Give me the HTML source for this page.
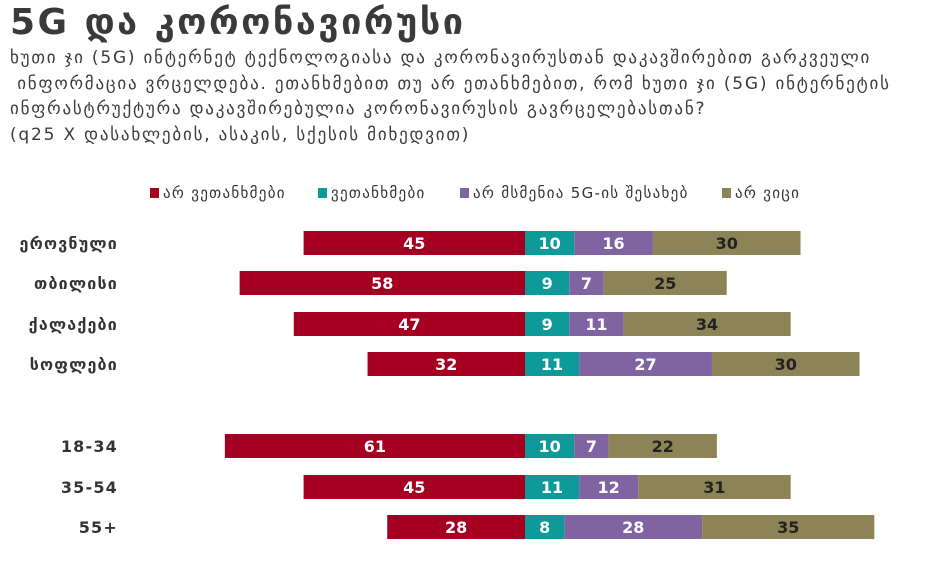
<!DOCTYPE html>
<html><head><meta charset="utf-8"><style>
body{margin:0;background:#fff;width:937px;height:565px;overflow:hidden;font-family:"DejaVu Sans",sans-serif;color:#3a3a3a}
#title{position:absolute;left:10px;top:0px;font-size:36px;font-weight:bold;letter-spacing:2.5px;margin:0;line-height:46px}
#sub{position:absolute;left:10px;top:46px;font-size:17px;letter-spacing:1.8px;line-height:25.5px;margin:0;width:930px;white-space:nowrap}
svg{position:absolute;left:0;top:0}
</style></head><body>
<h1 id="title">5G და კორონავირუსი</h1>
<p id="sub">ხუთი ჯი (5G) ინტერნეტ ტექნოლოგიასა და კორონავირუსთან დაკავშირებით გარკვეული<br>&nbsp;ინფორმაცია ვრცელდება. ეთანხმებით თუ არ ეთანხმებით, რომ ხუთი ჯი (5G) ინტერნეტის<br>ინფრასტრუქტურა დაკავშირებულია კორონავირუსის გავრცელებასთან?<br>(q25 X დასახლების, ასაკის, სქესის მიხედვით)</p>
<svg id="chart" width="937" height="565"></svg>
<script>
const categories=["ეროვნული","თბილისი","ქალაქები","სოფლები","18-34","35-54","55+"];
const disagree=[45,58,47,32,61,45,28];
const agree=[10,9,9,11,10,11,8];
const notHeard=[16,7,11,27,7,12,28];
const dontKnow=[30,25,34,30,22,31,35];
const seriesNames=["არ ვეთანხმები","ვეთანხმები","არ მსმენია 5G-ის შესახებ","არ ვიცი"];
const colors=["#a50021","#0f9a9a","#8064a2","#8c8456"];
const rowY=[243,283,324,364,446,487,527];
const NS="http://www.w3.org/2000/svg";
const svg=document.getElementById('chart');
const cx=525,k=4.92,bh=24;
const x=v=>cx+v*k;
function mk(t,a,p){const e=document.createElementNS(NS,t);for(const n in a)e.setAttribute(n,a[n]);(p||svg).appendChild(e);return e;}
const lx=[150,318,460,722];
seriesNames.forEach((s,i)=>{
 const g=mk('g',{});
 
 
 mk('rect',{x:lx[i],y:188,width:9,height:10,fill:colors[i]},g);
 const t=mk('text',{x:lx[i]+13,y:198,'font-size':15,'letter-spacing':1.3,fill:'#333'},g);t.textContent=s;
});
categories.forEach((c,i)=>{
 const y=rowY[i];
 const lab=mk('text',{x:118,y:y+6,'text-anchor':'end','font-size':16,'font-weight':'bold','letter-spacing':1.2,fill:'#333'});
 
 
 lab.textContent=c;
 const segs=[[x(-disagree[i]),x(0),disagree[i],0],[x(0),x(agree[i]),agree[i],1],[x(agree[i]),x(agree[i]+notHeard[i]),notHeard[i],2],[x(agree[i]+notHeard[i]),x(agree[i]+notHeard[i]+dontKnow[i]),dontKnow[i],3]];
 segs.forEach(s=>{
  const r=mk('rect',{x:s[0],y:y-bh/2,width:s[1]-s[0],height:bh,fill:colors[s[3]]});
  
  
  const t=mk('text',{x:(s[0]+s[1])/2,y:y+6,'text-anchor':'middle','font-size':16,'font-weight':'bold',fill:s[3]==3?'#222':'#fff'});
  
  
  t.textContent=s[2];
 });
});
</script>
</body></html>
